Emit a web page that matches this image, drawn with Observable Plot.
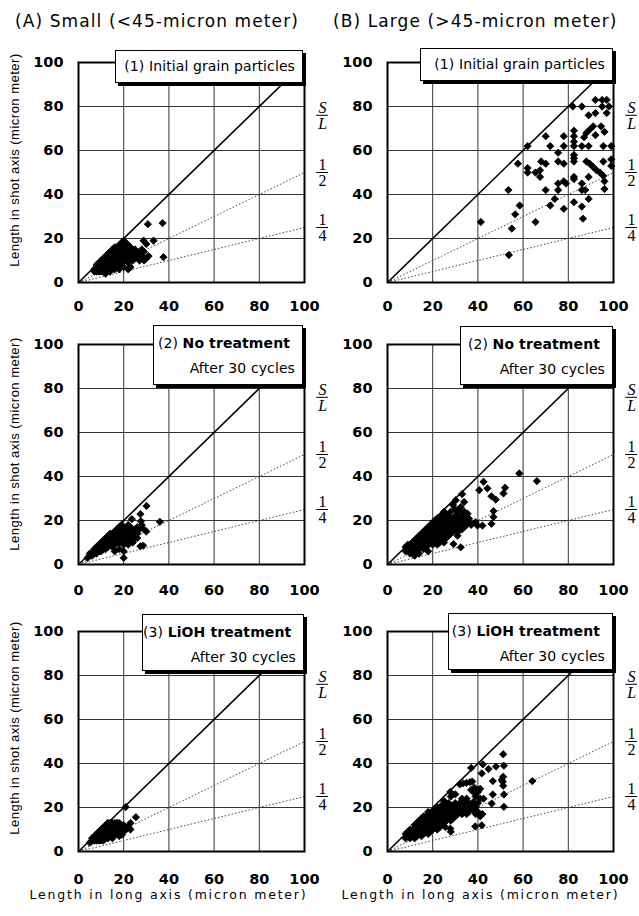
<!DOCTYPE html>
<html><head><meta charset="utf-8">
<script src="https://cdn.jsdelivr.net/npm/d3@7"></script>
<script src="https://cdn.jsdelivr.net/npm/@observablehq/plot@0.6"></script>
<style>
body{margin:0;background:#fff;}
#page{position:relative;width:639px;height:916px;overflow:hidden;font-family:"DejaVu Sans",sans-serif;color:#000;}
.hdr{position:absolute;font-size:17px;line-height:20px;letter-spacing:1.1px;white-space:nowrap;}
.ytitle{position:absolute;width:260px;text-align:center;font-family:"Liberation Sans",sans-serif;font-size:13px;line-height:14px;letter-spacing:0.5px;white-space:nowrap;transform:translate(-50%,-50%) rotate(-90deg);}
.box{position:absolute;background:#fff;border:1.5px solid #000;box-shadow:3px 3px 0 #000;box-sizing:border-box;font-size:14px;letter-spacing:0.1px;text-align:right;white-space:nowrap;}
.box div{line-height:25px;}
.panel{position:absolute;}
</style></head><body><div id="page"></div><script>
// ---- data ----
const tickValues = [0, 20, 40, 60, 80, 100];
const gridValues = [20, 40, 60, 80];
const ratios = [1, 1/2, 1/4];
const fracY = [76, 50, 25];
const fracTop = ["S", "1", "1"];
const fracBottom = ["L", "2", "4"];
const columnTitles = ["(A) Small (<45-micron meter)", "(B) Large (>45-micron meter)"];
const panelNumbers = ["(1)", "(2)", "(3)"];
const panelNames = ["Initial grain particles", "No treatment", "LiOH treatment"];
const panelNotes = ["", "After 30 cycles", "After 30 cycles"];
const yTitle = "Length in shot axis (micron meter)";
const xTitle = "Length in long axis (micron meter)";

const smallInitial = [[7,5],[7,6],[8,5],[8,7],[8,8],[9,5],[9,6],[9,7],[9,9],[10,5],[10,6],[10,8],[10,9],[10,10],[11,5],[11,7],[11,8],[11,10],[11,11],[12,6],[12,7],[12,9],[12,11],[12,12],[13,6],[13,8],[13,10],[13,12],[13,13],[14,7],[14,9],[14,11],[14,13],[14,14],[15,7],[15,9],[15,10],[15,12],[15,14],[15,15],[16,8],[16,10],[16,12],[16,14],[16,16],[17,8],[17,11],[17,13],[17,15],[17,16],[18,9],[18,11],[18,13],[18,15],[18,17],[19,8],[19,12],[19,14],[19,16],[19,18],[20,10],[20,13],[20,15],[20,17],[20,19],[21,11],[21,14],[21,16],[21,18],[22,9],[22,12],[22,15],[22,17],[23,7],[23,11],[23,13],[23,16],[24,10],[24,12],[24,14],[25,11],[25,13],[25,15],[26,12],[26,14],[27,10],[27,13],[28,12],[28,15],[29,14],[16,6],[18,6],[20,7],[12,4],[14,5],[22,6],[30.7,26.5],[37.2,27],[28.8,19],[33.2,19],[30,17.5],[37.6,11.5],[30,11],[31,12],[29,10]];
const smallNoTreatment = [[4,3],[5,4],[5,5],[6,4],[6,5],[7,5],[7,6],[7,7],[8,5],[8,7],[8,8],[9,6],[9,8],[9,9],[10,6],[10,8],[10,10],[11,7],[11,9],[11,11],[12,7],[12,9],[12,11],[12,12],[13,8],[13,10],[13,12],[13,13],[14,9],[14,11],[14,13],[14,14],[15,8],[15,10],[15,12],[15,14],[16,9],[16,11],[16,13],[16,15],[17,10],[17,12],[17,14],[17,16],[18,10],[18,13],[18,15],[18,17],[19,11],[19,14],[19,16],[19,18],[20,9],[20,12],[20,15],[20,17],[21,11],[21,14],[21,16],[22,12],[22,15],[22,18],[23,11],[23,14],[23,17],[24,13],[24,16],[25,12],[25,15],[26,14],[26,17],[27,16],[20,3],[20,6],[18,7],[22,9],[24,10],[23.6,20.6],[27.4,22.9],[30.1,26.6],[36,19.4],[27.6,19.7],[28,18],[29,16],[30,15],[28.6,8.6],[27.4,8.3],[26,12],[16,6]];
const smallLiOH = [[5,4],[6,5],[6,6],[7,5],[7,6],[7,7],[8,5],[8,6],[8,7],[8,8],[9,5],[9,6],[9,7],[9,8],[9,9],[10,5],[10,6],[10,7],[10,8],[10,9],[10,10],[11,5],[11,6],[11,7],[11,8],[11,9],[11,10],[11,11],[12,6],[12,7],[12,8],[12,9],[12,10],[12,11],[12,12],[13,6],[13,7],[13,8],[13,9],[13,10],[13,11],[13,12],[13,13],[14,7],[14,8],[14,9],[14,10],[14,11],[14,12],[14,13],[15,7],[15,8],[15,9],[15,10],[15,11],[15,12],[15,13],[16,8],[16,9],[16,10],[16,11],[16,12],[16,13],[17,8],[17,10],[17,11],[17,12],[17,13],[18,9],[18,10],[18,11],[18,12],[18,13],[19,9],[19,10],[19,11],[19,12],[20,9],[20,11],[20,12],[21,10],[21,11],[22,11],[23,10],[23,13],[20.9,20.2],[25.4,15.6],[19.2,7.6],[19.5,10.7],[18,7],[15,6]];
const largeInitial = [[92,83],[95,83],[97,83],[82,80],[86,80],[95,80],[98,80],[92,77],[89,76],[97,77],[87,66],[88,68],[89.5,69.5],[91,71],[92,67],[94.5,71],[96,68.5],[82.5,69],[82.5,66.5],[82.5,64],[70,66.5],[78,66.5],[62,62],[72,62],[78,62],[82.5,62],[86,62],[89,62],[95.5,62],[99,62],[75.5,59],[82.5,58],[82.5,56.5],[82.5,55],[75.5,55],[78,54],[68,55],[70,54],[88,55],[89.5,54],[91,52.5],[92.5,51],[94,50],[95.5,48.5],[95.5,55],[99,56],[99,53],[57.7,54],[62,52],[62,50],[65.5,50],[67.5,51],[67.5,48],[82.5,48],[82.5,47],[89,48],[96,46],[96,42.5],[75.5,45],[78,46],[79,45],[86,45],[53.5,42],[70,42],[75.5,42],[86,42],[87.5,42],[89,38],[74,38],[72,35],[82.5,36.5],[86,34.5],[78,33.5],[58.5,35],[56.5,31],[65.5,27.5],[86.5,29],[55,24.5],[41.3,27.5],[53.7,12.5]];
const largeNoTreatment = [[8,6],[8,8],[9,7],[9,9],[10,5],[10,7],[10,9],[11,6],[11,8],[11,10],[12,7],[12,9],[12,11],[13,6],[13,8],[13,10],[13,12],[14,7],[14,9],[14,11],[14,13],[15,8],[15,10],[15,12],[15,14],[16,7],[16,9],[16,11],[16,13],[16,15],[17,8],[17,10],[17,12],[17,14],[17,16],[18,9],[18,11],[18,13],[18,15],[18,17],[19,10],[19,12],[19,14],[19,16],[19,18],[20,9],[20,11],[20,13],[20,15],[20,17],[20,19],[21,10],[21,12],[21,14],[21,16],[21,18],[21,20],[22,9],[22,11],[22,13],[22,15],[22,17],[22,19],[22,21],[23,10],[23,12],[23,14],[23,16],[23,18],[23,20],[24,11],[24,13],[24,15],[24,17],[24,19],[24,22],[25,10],[25,13],[25,16],[25,18],[25,21],[25,24],[26,12],[26,15],[26,18],[26,20],[26,23],[27,13],[27,16],[27,19],[27,22],[28,14],[28,17],[28,20],[28,24],[29,15],[29,18],[29,21],[29,27],[30,16],[30,19],[30,22],[30,25],[31,17],[31,20],[31,23],[32,18],[32,21],[32,25],[33,16],[33,19],[33,22],[34,17],[34,20],[34,24],[35,18],[35,21],[36,19],[37,18],[14,5],[12,4],[18,6],[33,32],[58.3,41.4],[66.1,37.9],[42.5,37.6],[40.6,33.8],[44.2,34.6],[52,34.9],[51.3,32.3],[46,31],[47.9,29.5],[46.9,24.3],[46.9,21.6],[46,18.5],[42,17.7],[39.8,17.7],[39,19.3],[33.9,28.4],[30.2,29.2],[32.4,26.1],[35.4,23.1],[36.1,20.8],[29.2,9.3],[32.4,7.8],[31,14.7],[31,13.1]];
const largeLiOH = [[8,6],[8,8],[9,7],[9,9],[10,6],[10,8],[10,10],[11,7],[11,9],[12,6],[12,8],[12,10],[12,12],[13,7],[13,9],[13,11],[13,13],[14,8],[14,10],[14,12],[14,14],[15,7],[15,9],[15,11],[15,13],[15,15],[16,8],[16,10],[16,12],[16,14],[16,16],[17,9],[17,11],[17,13],[17,15],[18,8],[18,10],[18,12],[18,14],[18,16],[18,18],[19,9],[19,11],[19,13],[19,15],[19,17],[20,10],[20,12],[20,14],[20,16],[20,18],[21,11],[21,13],[21,15],[21,17],[21,19],[22,10],[22,12],[22,14],[22,16],[22,18],[22,20],[23,11],[23,13],[23,15],[23,17],[23,19],[24,12],[24,14],[24,16],[24,18],[24,21],[25,13],[25,15],[25,17],[25,20],[25,23],[26,14],[26,16],[26,18],[26,21],[27,15],[27,17],[27,19],[27,22],[28,9],[28,14],[28,16],[28,18],[28,20],[28,25],[29,15],[29,17],[29,19],[29,21],[30,16],[30,18],[30,20],[30,22],[30,26],[31,17],[31,19],[31,21],[32,18],[32,20],[32,22],[33,17],[33,19],[33,21],[33,24],[34,18],[34,20],[34,22],[35,17],[35,19],[35,24],[36,18],[36,20],[36,22],[37,21],[37,28],[37,38],[38,19],[38,22],[38,27],[39,17],[39,20],[39,25],[40,18],[40,22],[40,28],[41,16],[41,24],[42,17],[51.2,44.2],[42.2,39.6],[41.7,35.5],[44.7,37.5],[48,38.6],[51.5,39],[51.2,34],[50.5,32.5],[51,31.7],[46.6,32],[64.1,32],[51.2,29.9],[46.6,25.9],[51.5,25.9],[46.1,21.8],[51.5,20.3],[41.7,11.9],[38.8,11.4],[32,30.5],[33.5,31],[35,31.2],[36.5,31.5],[37.5,31.8],[40,27],[27.8,27.1],[25.6,11.1],[27.8,10.4],[41,28.5],[42.5,24],[38,22.5],[38.5,29]];

const panelData = [
  [smallInitial, smallNoTreatment, smallLiOH],
  [largeInitial, largeNoTreatment, largeLiOH]
];

// ---- layout ----
const page = document.getElementById("page");
const plotTops = [62, 344, 631];
const yTitleCenters = [160, 444, 728];
const xTickPad = [18, 20, 22];
const boxes = [
  [[115,50,188,33],[153,325,150,60],[142,614,162,57]],
  [[420,48,193,33],[460,326,153,59],[448,613,165,57]]
];

columnTitles.forEach((t, c) => {
  const d = document.createElement("div");
  d.className = "hdr";
  d.style.left = (c === 0 ? 15 : 333) + "px";
  d.style.top = "11px";
  d.textContent = t;
  page.appendChild(d);
});

function makePanel(col, row) {
  const ml = col === 0 ? 78 : 82, mr = col === 0 ? 30 : 24, mt = 20;
  const mb = row === 2 ? 66 : 40;
  const pw = 226, ph = 220;
  const width = ml + pw + mr, height = mt + ph + mb;
  const marks = [
    Plot.ruleX(gridValues, {stroke: "#333", strokeWidth: 1}),
    Plot.ruleY(gridValues, {stroke: "#333", strokeWidth: 1}),
    Plot.link(ratios.filter(r => r !== 1), {x1: 0, y1: 0, x2: 100, y2: r => 100 * r, stroke: "#444", strokeWidth: 1, strokeDasharray: "1.5,2"}),
    Plot.link(ratios.filter(r => r === 1), {x1: 0, y1: 0, x2: 100, y2: r => 100 * r, stroke: "#000", strokeWidth: 1.6}),
    Plot.dot(panelData[col][row], {x: d => d[0], y: d => d[1], symbol: "diamond2", r: 3.3, fill: "#000", stroke: "#000", strokeWidth: 0.8}),
    Plot.frame({stroke: "#000", strokeWidth: 2}),
    Plot.text([0], {x: 108, y: i => fracY[i], text: i => fracTop[i], dy: -7.5, fontFamily: "Liberation Serif", fontSize: 16, fontStyle: "italic", fontWeight: "normal"}),
    Plot.text([0], {x: 108, y: i => fracY[i], text: i => fracBottom[i], dy: 8.5, fontFamily: "Liberation Serif", fontSize: 16, fontStyle: "italic", fontWeight: "normal"}),
    Plot.text([1, 2], {x: 108, y: i => fracY[i], text: i => fracTop[i], dy: -7.5, fontFamily: "Liberation Serif", fontSize: 16, fontWeight: "normal"}),
    Plot.text([1, 2], {x: 108, y: i => fracY[i], text: i => fracBottom[i], dy: 8.5, fontFamily: "Liberation Serif", fontSize: 16, fontWeight: "normal"}),
    Plot.ruleY(fracY, {x1: 105.4, x2: 110.6, stroke: "#000", strokeWidth: 1})
  ];
  if (row === 2) {
    marks.push(Plot.text([xTitle], {frameAnchor: "bottom", text: d => d, dy: 47, dx: col === 0 ? -23 : -20, fontSize: 12.5, fontWeight: "normal"}));
  }
  const svg = Plot.plot({
    width, height,
    marginLeft: ml, marginRight: mr, marginTop: mt, marginBottom: mb,
    x: {domain: [0, 100], ticks: tickValues, tickSize: 0, tickPadding: xTickPad[row], label: null},
    y: {domain: [0, 100], ticks: tickValues, tickSize: 0, tickPadding: 15, label: null},
    style: {fontFamily: "DejaVu Sans", fontSize: "14.5px", fontWeight: "bold", background: "transparent", overflow: "visible", color: "#000"},
    marks
  });
  d3.select(svg).selectAll("text").each(function() {
    if (this.textContent === xTitle) d3.select(this).style("letter-spacing", "1.8px");
  });
  const div = document.createElement("div");
  div.className = "panel";
  div.style.left = (col === 0 ? 0 : 305) + "px";
  div.style.top = (plotTops[row] - mt) + "px";
  div.style.width = width + "px";
  div.style.height = height + "px";
  div.appendChild(svg);
  page.appendChild(div);
  if (col === 0) {
    const yt = document.createElement("div");
    yt.className = "ytitle";
    yt.style.left = "15px";
    yt.style.top = yTitleCenters[row] + "px";
    yt.textContent = yTitle;
    page.appendChild(yt);
  }
}

for (let row = 0; row < 3; row++) for (let col = 0; col < 2; col++) makePanel(col, row);

// label boxes
for (let col = 0; col < 2; col++) for (let row = 0; row < 3; row++) {
  const [l, t, w, h] = boxes[col][row];
  const b = document.createElement("div");
  b.className = "box";
  b.style.left = l + "px"; b.style.top = t + "px";
  b.style.width = w + "px"; b.style.height = h + "px";
  const l1 = document.createElement("div");
  if (row === 0) {
    l1.textContent = panelNumbers[row] + " " + panelNames[row];
    l1.style.paddingRight = "7px";
    l1.style.lineHeight = (h - 3) + "px";
    b.appendChild(l1);
  } else {
    l1.innerHTML = panelNumbers[row] + " <b></b>";
    l1.querySelector("b").textContent = panelNames[row];
    l1.style.paddingRight = "12px";
    l1.style.marginTop = "5px";
    const l2 = document.createElement("div");
    l2.textContent = panelNotes[row];
    l2.style.paddingRight = "7px";
    b.appendChild(l1);
    b.appendChild(l2);
  }
  page.appendChild(b);
}
</script></body></html>
